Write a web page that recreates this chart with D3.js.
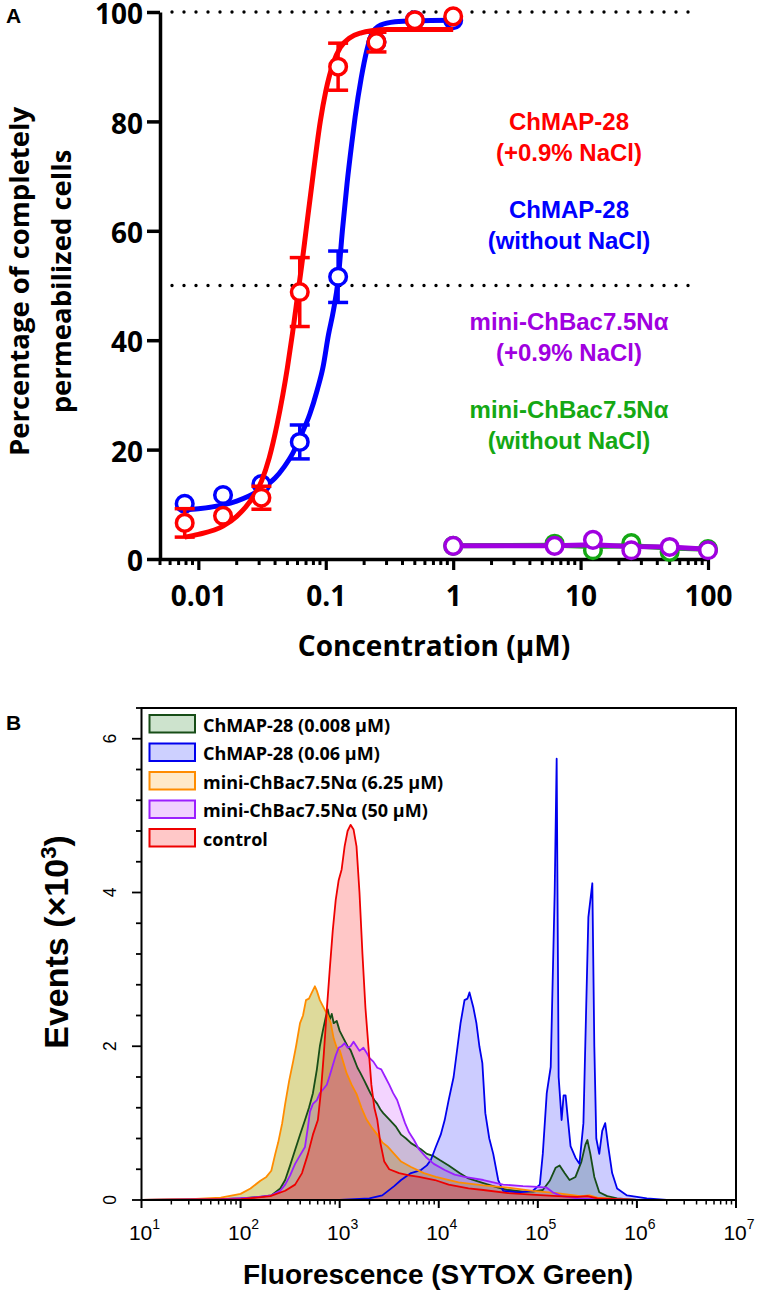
<!DOCTYPE html>
<html><head><meta charset="utf-8">
<script src="https://cdn.jsdelivr.net/npm/d3@7/dist/d3.min.js"></script>
<style>
html,body{margin:0;padding:0;background:#fff;}
svg{display:block;}
</style>
</head><body>
<svg id="chart" width="758" height="1295"></svg>
<script>
// ---------------- Panel A data ----------------
const concA = [0.0078125, 0.015625, 0.03125, 0.0625, 0.125, 0.25, 0.5, 1];
const redVals = [6.6, 7.9, 11.2, 48.8, 90.0, 94.5, 98.5, 99.2];
const redErr = [2.6, 0, 2.1, 6.3, 4.3, 1.8, 0, 0];
const blueVals = [10.1, 11.7, 13.7, 21.4, 51.6, 94.5, 98.5, 98.5];
const blueErr = [0, 0, 0, 3.1, 4.7, 0, 0, 0];

const redFitX = [0.0078, 0.01, 0.0156, 0.02, 0.025, 0.03125, 0.036, 0.0414, 0.046, 0.05, 0.055, 0.06, 0.065, 0.07, 0.0798, 0.0906, 0.1, 0.115, 0.13, 0.155, 0.19, 0.235, 0.3, 0.5, 1];
const redFitY = [4.0, 4.5, 6.0, 7.8, 10.3, 14.2, 18.5, 24.5, 30, 35, 41.5, 48, 54, 60, 70.5, 80, 85.5, 90.8, 93.5, 95.3, 96.2, 96.6, 96.8, 96.8, 96.8];
const blueFitX = [0.0078, 0.01, 0.0156, 0.02, 0.025, 0.032, 0.04, 0.047, 0.055, 0.063, 0.075, 0.0857, 0.095, 0.105, 0.115, 0.125, 0.135, 0.147, 0.16, 0.17, 0.19, 0.21, 0.23, 0.27, 0.35, 0.5, 1];
const blueFitY = [9.0, 9.2, 9.9, 10.6, 11.5, 13.0, 14.8, 16.8, 19.3, 22.3, 26.5, 30.9, 35, 41, 45.5, 51, 60, 68.7, 76, 80.8, 88, 93, 96, 97.6, 98.2, 98.4, 98.5];

const concMini = [1, 6.25, 12.5, 25, 50, 100];
const purpleVals = [2.4, 2.4, 3.5, 1.6, 2.2, 1.6];
const purpleLine = [2.4, 2.4, 2.6, 2.3, 2.2, 1.8];
const greenVals = [2.4, 2.8, 1.6, 2.9, 1.3, 1.8];
const greenLine = [2.4, 2.5, 2.3, 2.4, 2.0, 1.8];

const yTicksA = [0, 20, 40, 60, 80, 100];
const xTicksA = [0.01, 0.1, 1, 10, 100];
const xTickLabelsA = ["0.01", "0.1", "1", "10", "100"];
const refLinesA = [100, 50];

const labelsA = [
  {lines: ["ChMAP-28", "(+0.9% NaCl)"], color: "#ff0000"},
  {lines: ["ChMAP-28", "(without NaCl)"], color: "#0000ff"},
  {lines: ["mini-ChBac7.5N\u03b1", "(+0.9% NaCl)"], color: "#a000e0"},
  {lines: ["mini-ChBac7.5N\u03b1", "(without NaCl)"], color: "#14a814"}
];

// ---------------- Panel B data (x = log10 fluorescence, y = events x10^3) ----------------
const histGreen = [[1.0,0],[1.8,0.01],[2.0,0.02],[2.2,0.04],[2.31,0.06],[2.4,0.15],[2.45,0.26],[2.5,0.45],[2.55,0.65],[2.6,0.85],[2.65,1.04],[2.69,1.2],[2.73,1.39],[2.77,1.7],[2.80,2.0],[2.83,2.2],[2.86,2.38],[2.88,2.48],[2.90,2.35],[2.92,2.42],[2.94,2.3],[2.97,2.33],[3.0,2.2],[3.04,2.1],[3.08,2.0],[3.11,1.95],[3.15,1.82],[3.18,1.72],[3.21,1.65],[3.25,1.55],[3.28,1.47],[3.31,1.39],[3.35,1.3],[3.38,1.25],[3.41,1.18],[3.44,1.13],[3.5,1.05],[3.57,0.95],[3.62,0.85],[3.67,0.8],[3.72,0.74],[3.77,0.70],[3.82,0.66],[3.88,0.6],[3.95,0.57],[4.01,0.52],[4.1,0.45],[4.21,0.35],[4.3,0.28],[4.45,0.22],[4.6,0.16],[4.7,0.13],[4.85,0.11],[4.95,0.11],[5.05,0.13],[5.12,0.25],[5.18,0.42],[5.22,0.45],[5.27,0.35],[5.32,0.26],[5.38,0.3],[5.44,0.5],[5.48,0.72],[5.50,0.78],[5.53,0.6],[5.57,0.3],[5.62,0.1],[5.7,0.05],[5.8,0.02],[6.0,0],[7,0]];
const histBlue = [[1.0,0],[3.0,0],[3.3,0.02],[3.43,0.06],[3.55,0.18],[3.62,0.26],[3.72,0.35],[3.82,0.39],[3.88,0.45],[3.92,0.52],[3.97,0.69],[4.02,0.85],[4.06,1.04],[4.1,1.3],[4.15,1.6],[4.19,2.0],[4.22,2.3],[4.26,2.6],[4.29,2.62],[4.31,2.7],[4.35,2.5],[4.38,2.3],[4.41,2.0],[4.44,1.78],[4.47,1.13],[4.51,0.8],[4.55,0.6],[4.6,0.26],[4.65,0.12],[4.8,0.1],[4.95,0.12],[5.02,0.2],[5.05,0.6],[5.09,1.39],[5.13,1.73],[5.17,4.0],[5.19,5.74],[5.21,1.6],[5.24,1.04],[5.26,1.36],[5.28,1.36],[5.33,0.7],[5.38,0.55],[5.42,0.47],[5.46,1.0],[5.51,3.68],[5.55,4.12],[5.57,2.0],[5.59,0.8],[5.62,0.6],[5.65,0.9],[5.68,1.0],[5.71,0.7],[5.75,0.35],[5.8,0.15],[5.9,0.06],[6.1,0.02],[6.3,0],[7,0]];
const histOrange = [[1.0,0],[1.5,0.01],[1.8,0.03],[2.0,0.08],[2.1,0.15],[2.2,0.25],[2.26,0.3],[2.31,0.38],[2.35,0.6],[2.38,0.75],[2.42,1.0],[2.45,1.25],[2.49,1.55],[2.53,1.8],[2.56,2.0],[2.6,2.3],[2.63,2.4],[2.66,2.6],[2.69,2.62],[2.72,2.7],[2.75,2.78],[2.77,2.72],[2.80,2.6],[2.84,2.5],[2.88,2.4],[2.91,2.3],[2.94,2.1],[2.97,1.98],[3.0,1.95],[3.04,1.78],[3.07,1.65],[3.12,1.5],[3.17,1.38],[3.22,1.2],[3.27,1.05],[3.32,0.95],[3.38,0.85],[3.43,0.75],[3.48,0.7],[3.55,0.6],[3.62,0.5],[3.72,0.43],[3.85,0.35],[3.97,0.3],[4.2,0.23],[4.45,0.19],[4.7,0.16],[4.95,0.12],[5.19,0.09],[5.43,0.05],[5.52,0.06],[5.6,0.03],[5.8,0.01],[6,0],[7,0]];
const histPurple = [[1.0,0],[1.8,0.01],[2.1,0.03],[2.31,0.06],[2.4,0.12],[2.45,0.2],[2.5,0.32],[2.55,0.47],[2.6,0.58],[2.65,0.69],[2.68,0.95],[2.70,1.15],[2.73,1.25],[2.77,1.3],[2.80,1.39],[2.84,1.45],[2.87,1.5],[2.9,1.62],[2.93,1.75],[2.96,1.88],[2.99,1.98],[3.02,2.0],[3.05,2.04],[3.08,1.98],[3.11,2.0],[3.14,2.06],[3.17,2.0],[3.2,1.94],[3.24,1.98],[3.27,1.92],[3.3,1.85],[3.34,1.8],[3.38,1.72],[3.42,1.7],[3.46,1.6],[3.5,1.5],[3.54,1.39],[3.58,1.3],[3.62,1.15],[3.66,1.0],[3.7,0.88],[3.75,0.78],[3.8,0.66],[3.87,0.56],[3.95,0.47],[4.06,0.39],[4.16,0.33],[4.26,0.3],[4.45,0.26],[4.65,0.2],[4.85,0.18],[5.0,0.17],[5.09,0.16],[5.15,0.1],[5.24,0.05],[5.4,0.02],[5.6,0.01],[6,0],[7,0]];
const histRed = [[1.0,0],[2.0,0.01],[2.3,0.05],[2.45,0.12],[2.55,0.2],[2.62,0.35],[2.68,0.6],[2.73,0.85],[2.78,1.04],[2.81,1.4],[2.84,1.9],[2.87,2.47],[2.90,3.0],[2.93,3.5],[2.96,3.9],[2.99,4.16],[3.02,4.3],[3.05,4.6],[3.08,4.8],[3.11,4.88],[3.14,4.82],[3.17,4.6],[3.2,4.0],[3.23,3.2],[3.26,2.5],[3.29,2.0],[3.32,1.5],[3.35,1.2],[3.38,1.04],[3.41,0.75],[3.45,0.5],[3.5,0.4],[3.6,0.35],[3.7,0.32],[3.8,0.3],[3.96,0.26],[4.1,0.2],[4.3,0.15],[4.45,0.13],[4.7,0.09],[4.94,0.07],[5.2,0.05],[5.4,0.04],[5.5,0.05],[5.6,0.02],[5.8,0.01],[6,0],[7,0]];

const seriesB = [
  {name: "ChMAP-28 (0.008 \u03bcM)", data: histGreen, stroke: "#174d17", fill: "rgb(0,90,0)", op: 0.2, legendFill: "#cde3cd"},
  {name: "ChMAP-28 (0.06 \u03bcM)", data: histBlue, stroke: "#0000ee", fill: "rgb(0,0,255)", op: 0.2, legendFill: "#cdd0ff"},
  {name: "mini-ChBac7.5N\u03b1 (6.25 \u03bcM)", data: histOrange, stroke: "#ff8c00", fill: "rgb(177,168,17)", op: 0.42, legendFill: "#ffe9c8"},
  {name: "mini-ChBac7.5N\u03b1 (50 \u03bcM)", data: histPurple, stroke: "#9b1fff", fill: "rgb(200,60,255)", op: 0.22, legendFill: "#f1d0ff"},
  {name: "control", data: histRed, stroke: "#ee0000", fill: "rgb(255,0,0)", op: 0.22, legendFill: "#ffc8c8"}
];
const yTicksB = [0, 2, 4, 6];
const xTicksBExp = [1, 2, 3, 4, 5, 6, 7];

// ---------------- Drawing ----------------
const svg = d3.select("#chart");
const OS = "'Open Sans', sans-serif";
const AR = "'Liberation Sans', Arial, sans-serif";

// ===== Panel A =====
const xA = d3.scaleLog().domain([0.005, 100]).range([160, 708]);
const yA = d3.scaleLinear().domain([0, 100]).range([559, 12]);
const gA = svg.append("g");

gA.append("text").attr("x", 6).attr("y", 23).text("A")
  .attr("font-family", AR).attr("font-weight", 700).attr("font-size", 21);

// reference dotted lines
refLinesA.forEach(v => {
  gA.append("line").attr("x1", 172).attr("x2", 700).attr("y1", yA(v)).attr("y2", yA(v))
    .attr("stroke", "#000").attr("stroke-width", 3.4).attr("stroke-linecap", "round")
    .attr("stroke-dasharray", "0 12");
});

// y axis
const yAxA = d3.axisLeft(yA).tickValues(yTicksA).tickSize(13).tickSizeOuter(0).tickPadding(4);
const gyA = gA.append("g").attr("transform", "translate(160,0)").call(yAxA);
gyA.select(".domain").attr("stroke-width", 3.5);
gyA.selectAll(".tick line").attr("stroke-width", 3.5);
gyA.selectAll(".tick text").attr("font-family", OS).attr("font-weight", 700).attr("font-size", 28).attr("fill", "#000").attr("dy", "0.42em");

// x axis
const minorA = [];
[0.001, 0.01, 0.1, 1, 10].forEach(d => { for (let k = 2; k <= 9; k++) { const v = d * k; if (v >= 0.005 && v < 100) minorA.push(v); } });
const xAxA = d3.axisBottom(xA).tickValues(xTicksA).tickFormat((d, i) => xTickLabelsA[i]).tickSize(11).tickSizeOuter(0).tickPadding(16);
const gxA = gA.append("g").attr("transform", "translate(0,559)").call(xAxA);
gxA.select(".domain").attr("stroke-width", 3.5);
gxA.selectAll(".tick line").attr("stroke-width", 3.2);
gxA.selectAll(".tick text").attr("font-family", OS).attr("font-weight", 700).attr("font-size", 28).attr("fill", "#000");
gxA.selectAll(".minor").data(minorA).enter().append("line").attr("class", "minor")
  .attr("x1", d => xA(d)).attr("x2", d => xA(d)).attr("y1", 0).attr("y2", 6)
  .attr("stroke", "#000").attr("stroke-width", 3);

// axis titles
const ytA = gA.append("text").attr("transform", "translate(0,281.5) rotate(-90)")
  .attr("text-anchor", "middle").attr("font-family", OS).attr("font-weight", 700).attr("font-size", 27.5);
ytA.append("tspan").attr("x", 0).attr("y", 29).text("Percentage of completely");
ytA.append("tspan").attr("x", 0).attr("y", 71).text("permeabilized cells");
gA.append("text").attr("x", 434).attr("y", 656).attr("text-anchor", "middle")
  .attr("font-family", OS).attr("font-weight", 700).attr("font-size", 28).text("Concentration (\u03bcM)");

// curves
const lineA = d3.line().x(d => xA(d[0])).y(d => yA(d[1])).curve(d3.curveMonotoneX);
const lineLin = d3.line().x(d => xA(d[0])).y(d => yA(d[1]));

function drawPoints(xs, vals, errs, color) {
  if (errs) {
    xs.forEach((x, i) => {
      if (!errs[i]) return;
      const cx = xA(x), y1 = yA(vals[i] + errs[i]), y2 = yA(vals[i] - errs[i]);
      gA.append("line").attr("x1", cx).attr("x2", cx).attr("y1", y1).attr("y2", y2).attr("stroke", color).attr("stroke-width", 3.5);
      [y1, y2].forEach(yy => gA.append("line").attr("x1", cx - 10).attr("x2", cx + 10).attr("y1", yy).attr("y2", yy).attr("stroke", color).attr("stroke-width", 3.5));
    });
  }
  gA.append("g").selectAll("circle").data(xs).enter().append("circle")
    .attr("cx", d => xA(d)).attr("cy", (d, i) => yA(vals[i])).attr("r", 8.3)
    .attr("fill", "#fff").attr("stroke", color).attr("stroke-width", 3.5);
}

// mini-ChBac: green then purple
gA.append("path").attr("d", lineLin(concMini.map((c, i) => [c, greenLine[i]]))).attr("fill", "none").attr("stroke", "#14a814").attr("stroke-width", 5);
drawPoints(concMini, greenVals, null, "#14a814");
gA.append("path").attr("d", lineLin(concMini.map((c, i) => [c, purpleLine[i]]))).attr("fill", "none").attr("stroke", "#a000e0").attr("stroke-width", 5);
drawPoints(concMini, purpleVals, null, "#a000e0");

// ChMAP-28: blue then red
gA.append("path").attr("d", lineA(blueFitX.map((c, i) => [c, blueFitY[i]]))).attr("fill", "none").attr("stroke", "#0000ff").attr("stroke-width", 5);
drawPoints(concA, blueVals, blueErr, "#0000ff");
gA.append("path").attr("d", lineA(redFitX.map((c, i) => [c, redFitY[i]]))).attr("fill", "none").attr("stroke", "#ff0000").attr("stroke-width", 5);
drawPoints(concA, redVals, redErr, "#ff0000");

// labels
const labelBase = [130, 218, 330, 418];
labelsA.forEach((lab, i) => {
  lab.lines.forEach((t, j) => {
    gA.append("text").attr("x", 569).attr("y", labelBase[i] + j * 31).attr("text-anchor", "middle")
      .attr("font-family", AR).attr("font-weight", 700).attr("font-size", 24).attr("fill", lab.color).text(t);
  });
});

// ===== Panel B =====
const xB = d3.scaleLog().domain([10, 1e7]).range([141.5, 736]);
const yB = d3.scaleLinear().domain([0, 6.4]).range([1200, 708]);
const gB = svg.append("g");

gB.append("text").attr("x", 6).attr("y", 730).text("B")
  .attr("font-family", AR).attr("font-weight", 700).attr("font-size", 21);

const areaB = d3.area().x(d => xB(Math.pow(10, d[0]))).y0(yB(0)).y1(d => yB(d[1]));
const lineB = d3.line().x(d => xB(Math.pow(10, d[0]))).y(d => yB(d[1]));
svg.append("clipPath").attr("id", "clipB").append("rect").attr("x", 141.5).attr("y", 708).attr("width", 594.5).attr("height", 492);
const plotB = gB.append("g").attr("clip-path", "url(#clipB)");
seriesB.forEach(s => {
  plotB.append("path").attr("d", areaB(s.data)).attr("fill", s.fill).attr("fill-opacity", s.op).attr("stroke", "none");
});
seriesB.forEach(s => {
  plotB.append("path").attr("d", lineB(s.data)).attr("fill", "none").attr("stroke", s.stroke).attr("stroke-width", 1.8).attr("stroke-linejoin", "round");
});

// frame
gB.append("rect").attr("x", 141.5).attr("y", 708).attr("width", 594.5).attr("height", 492)
  .attr("fill", "none").attr("stroke", "#000").attr("stroke-width", 2);

// y axis B
const yMinorB = d3.range(0, 6.41, 0.4);
gB.selectAll(".ymin").data(yMinorB).enter().append("line")
  .attr("x1", d => (Math.abs(d % 2) < 1e-6 ? 132 : 136)).attr("x2", 141.5)
  .attr("y1", d => yB(d)).attr("y2", d => yB(d)).attr("stroke", "#000").attr("stroke-width", 1.8);
yTicksB.forEach(v => {
  gB.append("text").attr("transform", `translate(116,${yB(v)}) rotate(-90)`).attr("text-anchor", "middle")
    .attr("font-family", AR).attr("font-size", 17.5).text(v);
});

// x axis B
const xMinorB = [];
for (let e = 1; e < 7; e++) for (let k = 2; k <= 9; k++) xMinorB.push(k * Math.pow(10, e));
gB.selectAll(".xmin").data(xMinorB).enter().append("line")
  .attr("x1", d => xB(d)).attr("x2", d => xB(d)).attr("y1", 1200).attr("y2", 1204.5)
  .attr("stroke", "#000").attr("stroke-width", 1.5);
xTicksBExp.forEach(e => {
  const x = xB(Math.pow(10, e));
  gB.append("line").attr("x1", x).attr("x2", x).attr("y1", 1200).attr("y2", 1208).attr("stroke", "#000").attr("stroke-width", 2);
  const t = gB.append("text").attr("x", x + 3).attr("y", 1240).attr("text-anchor", "middle")
    .attr("font-family", AR).attr("font-size", 21);
  t.append("tspan").text("10");
  t.append("tspan").attr("dy", -11).attr("font-size", 14).text(e);
});

gB.append("text").attr("x", 438).attr("y", 1284).attr("text-anchor", "middle")
  .attr("font-family", AR).attr("font-weight", 700).attr("font-size", 28).text("Fluorescence (SYTOX Green)");
const ytB = gB.append("text").attr("transform", "translate(68,942) rotate(-90)").attr("text-anchor", "middle")
  .attr("font-family", AR).attr("font-weight", 700).attr("font-size", 34);
ytB.append("tspan").text("Events (\u00d710");
ytB.append("tspan").attr("dy", -12).attr("font-size", 22).text("3");
ytB.append("tspan").attr("dy", 12).text(")");

// legend B
seriesB.forEach((s, i) => {
  const top = 715 + i * 28.5;
  gB.append("rect").attr("x", 149.5).attr("y", top).attr("width", 45.5).attr("height", 17.5)
    .attr("fill", s.legendFill).attr("stroke", s.stroke).attr("stroke-width", 2);
  gB.append("text").attr("x", 203).attr("y", top + 16.5).attr("font-family", OS).attr("font-weight", 700)
    .attr("font-size", 18).text(s.name);
});
</script>
</body></html>
